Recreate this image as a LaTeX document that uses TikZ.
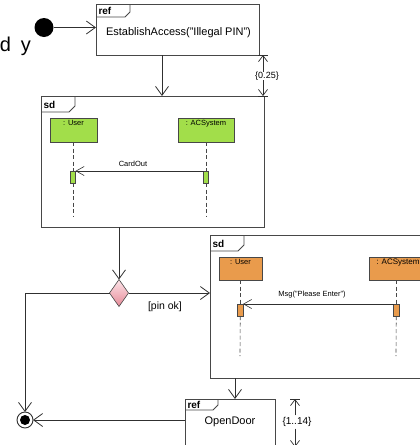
\documentclass[tikz,border=0pt]{standalone}
\usepackage{fontspec}
\setmainfont{Liberation Sans}
\usetikzlibrary{arrows.meta,shapes.geometric}

\definecolor{linec}{HTML}{303030}
\definecolor{framec}{HTML}{474747}
\definecolor{greenfill}{HTML}{A2DE4A}
\definecolor{orangefill}{HTML}{E99B4C}
\definecolor{pinktop}{HTML}{FDE4E8}
\definecolor{pinkbot}{HTML}{E68A97}

\newcommand\fsz[1]{\fontsize{#1}{#1}\selectfont}

% frame tag (pentagon in the upper left corner of a frame)
% #1 frame node, #2 width, #3 height, #4 corner cut, #5 keyword
\newcommand\frametag[5]{%
  \draw[draw=framec, line width=0.8pt] (#1.north west) ++(0,#3) -- ++({#2-#4},0) -- ++(#4,-#4) -- ++(0,{#4-#3});
  \path (#1.north west) ++(2.5,{#3/2+0.5}) node[tagtxt] (#1tag) {#5};
}

\tikzset{
  every node/.style={inner sep=0pt, outer sep=0pt},
  flow/.style={draw=linec, line width=0.8pt, -{Straight Barb[length=9pt,width=13pt,line width=0.8pt]}},
  msg/.style={draw=linec, line width=0.6pt, -{Straight Barb[length=8pt,width=9pt,line width=0.6pt]}},
  dur/.style={draw=linec, line width=0.7pt, -{Straight Barb[length=6pt,width=9pt,line width=0.7pt]}},
  durbar/.style={draw=linec, line width=0.7pt},
  frame/.style={draw=framec, line width=0.8pt, rectangle, anchor=north west},
  lifebox/.style={draw=framec, line width=0.6pt, rectangle, anchor=north west},
  life/.style={draw=framec, line width=0.6pt, dash pattern=on 4pt off 2.5pt},
  lbl/.style={font=\fsz{7.5}},
  tagtxt/.style={font=\fsz{10}\bfseries, anchor=west},
}

\begin{document}
\begin{tikzpicture}[x=1pt,y=-1pt]
\useasboundingbox (0,0) rectangle (420,445);
\clip (0,0) rectangle (420,445);

% title fragment
\node[font=\fsz{20}, anchor=base east] (head) at (31,51) {d\hspace{10pt}y};

% initial and final nodes
\node[circle, fill=black, minimum size=19pt] (init) at (44,27.5) {};
\node[circle, draw=linec, fill=white, line width=0.9pt, minimum size=16pt] (final) at (25,420) {};
\node[circle, fill=black, minimum size=10pt] (finaldot) at (25,420) {};

% reference: EstablishAccess
\node[frame, minimum width=163pt, minimum height=51pt] (ref1) at (96,4) {};
\node[font=\fsz{11}] (ref1txt) at (178.5,33) {EstablishAccess("Illegal PIN")};
\frametag{ref1}{34}{13}{5}{ref}

% first interaction
\node[frame, minimum width=223pt, minimum height=131pt] (sd1) at (41,96) {};
\frametag{sd1}{34}{16}{6}{sd}
\node[lifebox, fill=greenfill, minimum width=47pt, minimum height=24pt] (u1) at (50,118) {};
\node[lbl, anchor=north] (u1lbl) at ([yshift=-2pt]u1.north) {: User};
\node[lifebox, fill=greenfill, minimum width=56pt, minimum height=24pt] (s1) at (178,118) {};
\node[lbl, anchor=north] (s1lbl) at ([yshift=-2pt]s1.north) {: ACSystem};
\node[lifebox, fill=greenfill, minimum width=5pt, minimum height=12pt] (au1) at (70.5,171) {};
\node[lifebox, fill=greenfill, minimum width=5pt, minimum height=12pt] (as1) at (203.5,171) {};
\coordinate (u1end) at (73,217);
\coordinate (s1end) at (206,217);
\draw[life] (au1.north |- u1.south) -- (au1.north);
\draw[life] (au1.south) -- (u1end);
\draw[life] (as1.north |- s1.south) -- (as1.north);
\draw[life] (as1.south) -- (s1end);
\draw[msg] (as1.north west) -- (as1.north west -| au1.east);
\node[lbl] (m1lbl) at (133,164) {CardOut};

% decision
\node[diamond, draw=framec, line width=0.6pt, top color=pinktop, bottom color=pinkbot,
      minimum width=19pt, minimum height=27pt] (dec) at (119,293) {};

% second interaction
\node[frame, minimum width=230pt, minimum height=143pt] (sd2) at (210,235) {};
\frametag{sd2}{34}{16}{6}{sd}
\node[lifebox, fill=orangefill, minimum width=43pt, minimum height=23pt] (u2) at (219,257) {};
\node[lbl, anchor=north] (u2lbl) at ([yshift=-2pt]u2.north) {: User};
\node[lifebox, fill=orangefill, minimum width=58pt, minimum height=23pt] (s2) at (369,257) {};
\node[lbl, anchor=north, font=\fsz{8}] (s2lbl) at ([yshift=-2pt]s2.north) {: ACSystem};
\node[lifebox, fill=orangefill, minimum width=5.5pt, minimum height=12pt] (au2) at (237.5,304) {};
\node[lifebox, fill=orangefill, minimum width=5.5pt, minimum height=12pt] (as2) at (393.5,304) {};
\coordinate (u2end) at (240,356);
\coordinate (s2end) at (396,356);
\draw[life] (au2.north |- u2.south) -- (au2.north);
\draw[life] (au2.south) -- (u2end);
\draw[life] (as2.north |- s2.south) -- (as2.north);
\draw[life] (as2.south) -- (s2end);
\draw[msg] (as2.north west) -- (as2.north west -| au2.east);
\node[lbl] (m2lbl) at (312,295) {Msg("Please Enter")};

% reference: OpenDoor
\node[frame, minimum width=90pt, minimum height=60pt] (ref2) at (185,399) {};
\node[font=\fsz{11}] (ref2txt) at (230,422) {OpenDoor};
\frametag{ref2}{33}{11}{5}{ref}

% control flow
\coordinate (c1) at (162,0);
\coordinate (c2) at (235,0);
\draw[flow] (init.east) -- (init.east -| ref1.west);
\draw[flow] (c1 |- ref1.south) -- (c1 |- sd1.north);
\draw[flow] (dec.north |- sd1.south) -- (dec.north);
\draw[flow] (dec.east) -- (dec.east -| sd2.west);
\node[font=\fsz{10.5}] (guard) at (165,307) {[pin ok]};
\draw[flow] (dec.west) -| (final.north);
\draw[flow] (c2 |- sd2.south) -- (c2 |- ref2.north);
\draw[flow] (final.east -| ref2.west) -- (final.east);

% duration constraints
\coordinate (d1top) at (263,55);
\coordinate (d1bot) at (263,96);
\node[font=\fsz{9}] (d1lbl) at (267,76) {\{0.25\}};
\draw[dur] (d1lbl.north -| d1top) -- (d1top);
\draw[dur] (d1lbl.south -| d1bot) -- (d1bot);
\draw[durbar] ([xshift=-5pt]d1top) -- ([xshift=5pt]d1top);
\draw[durbar] ([xshift=-5pt]d1bot) -- ([xshift=5pt]d1bot);

\coordinate (d2top) at (295,399);
\coordinate (d2bot) at (295,447);
\node[font=\fsz{10}] (d2lbl) at (297,422) {\{1..14\}};
\draw[dur] ([yshift=2pt]d2lbl.north -| d2top) -- (d2top);
\draw[dur] ([yshift=-2pt]d2lbl.south -| d2bot) -- (d2bot);
\draw[durbar] ([xshift=-5pt]d2top) -- ([xshift=5pt]d2top);
\draw[durbar] ([xshift=-5pt]d2bot) -- ([xshift=5pt]d2bot);
\end{tikzpicture}
\end{document}
